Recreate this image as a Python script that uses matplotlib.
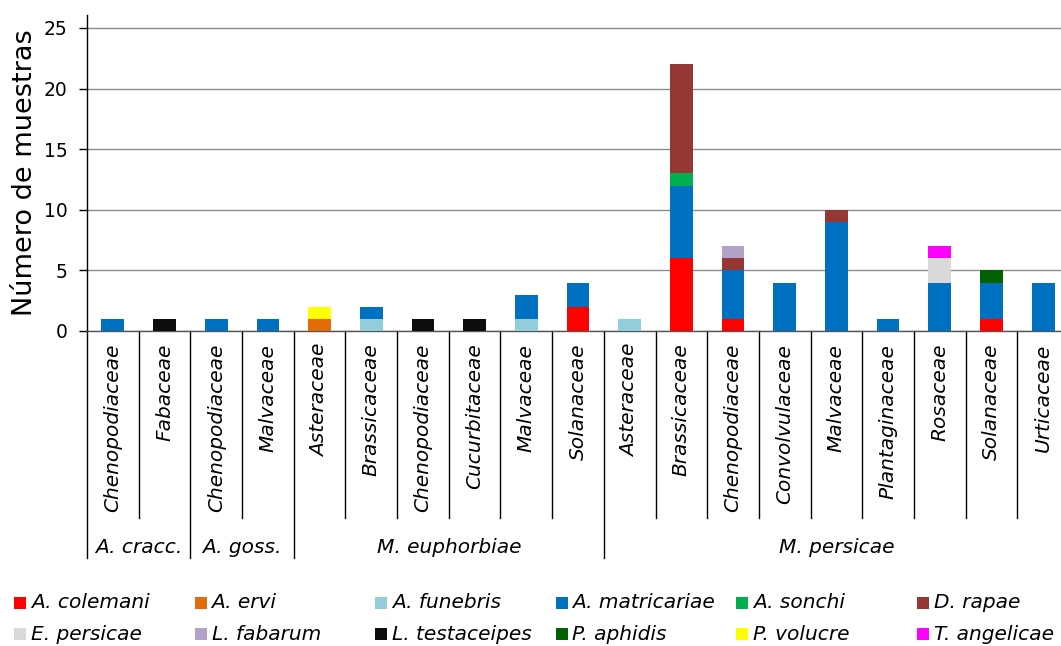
import numpy as np
import matplotlib
matplotlib.use("Agg")
import matplotlib.pyplot as plt
from matplotlib.patches import Rectangle
from matplotlib.transforms import blended_transform_factory

# host plant families (x categories) and aphid groups
categories = ["Chenopodiaceae", "Fabaceae",
              "Chenopodiaceae", "Malvaceae",
              "Asteraceae", "Brassicaceae", "Chenopodiaceae", "Cucurbitaceae",
              "Malvaceae", "Solanaceae",
              "Asteraceae", "Brassicaceae", "Chenopodiaceae", "Convolvulaceae",
              "Malvaceae", "Plantaginaceae", "Rosaceae", "Solanaceae", "Urticaceae"]
groups = ["A. cracc.", "A. goss.", "M. euphorbiae", "M. persicae"]
group_sizes = [2, 2, 6, 9]

# parasitoid species, samples per category
colemani    = [0, 0, 0, 0, 0, 0, 0, 0, 0, 2, 0, 6, 1, 0, 0, 0, 0, 1, 0]
ervi        = [0, 0, 0, 0, 1, 0, 0, 0, 0, 0, 0, 0, 0, 0, 0, 0, 0, 0, 0]
funebris    = [0, 0, 0, 0, 0, 1, 0, 0, 1, 0, 1, 0, 0, 0, 0, 0, 0, 0, 0]
matricariae = [1, 0, 1, 1, 0, 1, 0, 0, 2, 2, 0, 6, 4, 4, 9, 1, 4, 3, 4]
sonchi      = [0, 0, 0, 0, 0, 0, 0, 0, 0, 0, 0, 1, 0, 0, 0, 0, 0, 0, 0]
rapae       = [0, 0, 0, 0, 0, 0, 0, 0, 0, 0, 0, 9, 1, 0, 1, 0, 0, 0, 0]
persicae    = [0, 0, 0, 0, 0, 0, 0, 0, 0, 0, 0, 0, 0, 0, 0, 0, 2, 0, 0]
fabarum     = [0, 0, 0, 0, 0, 0, 0, 0, 0, 0, 0, 0, 1, 0, 0, 0, 0, 0, 0]
testaceipes = [0, 1, 0, 0, 0, 0, 1, 1, 0, 0, 0, 0, 0, 0, 0, 0, 0, 0, 0]
aphidis     = [0, 0, 0, 0, 0, 0, 0, 0, 0, 0, 0, 0, 0, 0, 0, 0, 0, 1, 0]
volucre     = [0, 0, 0, 0, 1, 0, 0, 0, 0, 0, 0, 0, 0, 0, 0, 0, 0, 0, 0]
angelicae   = [0, 0, 0, 0, 0, 0, 0, 0, 0, 0, 0, 0, 0, 0, 0, 0, 1, 0, 0]

species = ["A. colemani", "A. ervi", "A. funebris", "A. matricariae", "A. sonchi",
           "D. rapae", "E. persicae", "L. fabarum", "L. testaceipes", "P. aphidis",
           "P. volucre", "T. angelicae"]
series = [colemani, ervi, funebris, matricariae, sonchi, rapae, persicae,
          fabarum, testaceipes, aphidis, volucre, angelicae]
colors = ["#FF0000", "#E36C09", "#92CDDC", "#0070C0", "#00B050", "#953735",
          "#D9D9D9", "#B3A2C7", "#0D0D0D", "#006100", "#FFFF00", "#FF00FF"]

plt.rcParams['font.family'] = ['DejaVu Sans']

fig = plt.figure(figsize=(10.61, 6.46), dpi=100)
ax = fig.add_axes([87 / 1061, 315 / 646, 982 / 1061, 316 / 646])

x = np.arange(len(categories))
bottom = np.zeros(len(categories))
for vals, col in zip(series, colors):
    ax.bar(x, vals, 0.44, bottom=bottom, color=col, zorder=3)
    bottom += np.array(vals)

ax.set_xlim(-0.5, len(categories) - 0.5)
ax.set_ylim(0, 26.07)
ax.set_yticks(range(0, 26, 5))
ax.tick_params(axis='y', labelsize=13.5, length=6, width=1, pad=8)
ax.set_xticks([])
ax.yaxis.grid(True, color="#8c8c8c", lw=1, zorder=0)
for s in ["top", "right"]:
    ax.spines[s].set_visible(False)
ax.spines["left"].set_linewidth(1)
ax.spines["bottom"].set_linewidth(1)
ax.spines["bottom"].set_color("#555555")
ax.set_ylabel("Número de muestras", fontsize=19.5, labelpad=4)

# category labels and separators under the axis
tr = blended_transform_factory(ax.transData, ax.transAxes)
for i, name in enumerate(categories):
    ax.text(i, -0.04, name, transform=tr, rotation=90, ha="center", va="top",
            fontsize=14.5, style="italic", clip_on=False)

bounds = np.cumsum([0] + group_sizes) - 0.5
for b in np.arange(-0.5, len(categories) - 0.5, 1.0):
    low = -0.718 if np.any(np.isclose(bounds, b)) else -0.592
    ax.plot([b, b], [0, low], transform=tr, color="black", lw=1, clip_on=False)

for g, lo, hi in zip(groups, bounds[:-1], bounds[1:]):
    ax.text((lo + hi) / 2, -0.684, g, transform=tr, ha="center", va="center",
            fontsize=14.5, style="italic", clip_on=False)

# legend laid out on a fixed grid, 6 columns x 2 rows
for k, (name, col) in enumerate(zip(species, colors)):
    r, c = divmod(k, 6)
    px = 14 + c * 180.5
    py = 603 + r * 31
    fig.patches.append(Rectangle((px / 1061, 1 - (py + 6) / 646), 12 / 1061, 12 / 646,
                                 transform=fig.transFigure, facecolor=col,
                                 edgecolor="none"))
    fig.text((px + 17) / 1061, 1 - py / 646, name, fontsize=14.5, style="italic",
             va="center", ha="left")

fig.savefig("out.png", dpi=100)
